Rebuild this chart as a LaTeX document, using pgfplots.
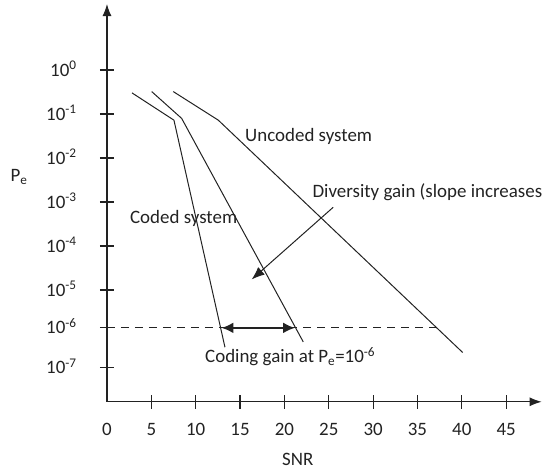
\documentclass[border=0pt]{standalone}
\usepackage{pgfplots}
\pgfplotsset{compat=1.18}
\usepackage{fontspec}
\setmainfont{Carlito}
\usetikzlibrary{arrows.meta}
\definecolor{ink}{HTML}{222222}
\begin{document}
\fontsize{19}{23}\selectfont
\begin{tikzpicture}
\begin{axis}[
  x=8.87bp, y=44bp,
  xmin=0, xmax=49, ymin=-7.54, ymax=1.5,
  axis lines=left,
  axis line style={line width=1.1bp, ink, -{Latex[length=12bp,width=9bp]}},
  tick style={line width=1.1bp, ink},
  major tick length=14bp,
  tick align=center,
  xtick={5,10,15,20,25,30,35,40,45},
  xticklabels={5,10,15,20,25,30,35,40,45},
  extra x ticks={0},
  extra x tick labels={0},
  extra x tick style={major tick length=0bp, xticklabel style={yshift=-7bp}},
  ytick={0,-1,-2,-3,-4,-5,-5.86,-6.77},
  yticklabels={},
  xticklabel style={font=\fontsize{19}{23}\selectfont, yshift=-8bp, text=ink},
  clip=false,
]
% Coded system (steepest)
\addplot[ink, line width=1bp] coordinates {(2.82,-0.52) (7.55,-1.14) (13.30,-6.30)};
% Coded system with diversity (middle)
\addplot[ink, line width=1bp] coordinates {(5.04,-0.49) (8.42,-1.10) (22.13,-6.18)};
% Uncoded system
\addplot[ink, line width=1bp] coordinates {(7.47,-0.49) (12.55,-1.14) (40.10,-6.42)};
% dashed line at 10^-6
\addplot[ink, line width=1bp, dash pattern=on 8bp off 6bp] coordinates {(0,-5.86) (37.17,-5.86)};
% coding gain double arrow
\draw[ink, line width=2.4bp, {Latex[length=12bp,width=11bp]}-{Latex[length=12bp,width=11bp]}] (axis cs:12.9,-5.86) -- (axis cs:21.2,-5.86);
% diversity gain arrow
\draw[ink, line width=1bp, -{Latex[length=13bp,width=10bp]}] (axis cs:25.5,-3.12) -- (axis cs:16.31,-4.76);
% y tick labels
\begin{scope}[every node/.style={anchor=base east, text=ink, inner sep=0}]
\node at ([yshift=-6bp]axis cs:-3.4,0) {10\textsuperscript{0}};
\node at ([yshift=-6bp]axis cs:-3.4,-1) {10\textsuperscript{-1}};
\node at ([yshift=-6bp]axis cs:-3.4,-2) {10\textsuperscript{-2}};
\node at ([yshift=-6bp]axis cs:-3.4,-3) {10\textsuperscript{-3}};
\node at ([yshift=-6bp]axis cs:-3.4,-4) {10\textsuperscript{-4}};
\node at ([yshift=-6bp]axis cs:-3.4,-5) {10\textsuperscript{-5}};
\node at ([yshift=-6bp]axis cs:-3.4,-5.86) {10\textsuperscript{-6}};
\node at ([yshift=-6bp]axis cs:-3.4,-6.77) {10\textsuperscript{-7}};
\end{scope}
% labels
\node[anchor=west, text=ink, inner sep=0] at (axis cs:15.56,-1.52) {Uncoded system};
\node[anchor=west, text=ink, inner sep=0] at (axis cs:23.15,-2.77) {Diversity gain (slope increases)};
\node[anchor=west, text=ink, inner sep=0] at (axis cs:2.59,-3.37) {Coded system};
\node[anchor=west, text=ink, inner sep=0] at (axis cs:11.05,-6.52) {Coding gain at P\textsubscript{e}=10\textsuperscript{-6}};
\node[text=ink, inner sep=0] at (axis cs:-9.92,-2.43) {P\textsubscript{e}};
\node[text=ink, inner sep=0] at (axis cs:21.5,-8.84) {SNR};
\coordinate (bl) at (axis cs:-12.06,-9.114);
\coordinate (tr) at (axis cs:49.04,1.591);
\end{axis}
\pgfresetboundingbox
\useasboundingbox (bl) rectangle (tr);
\end{tikzpicture}
\end{document}
